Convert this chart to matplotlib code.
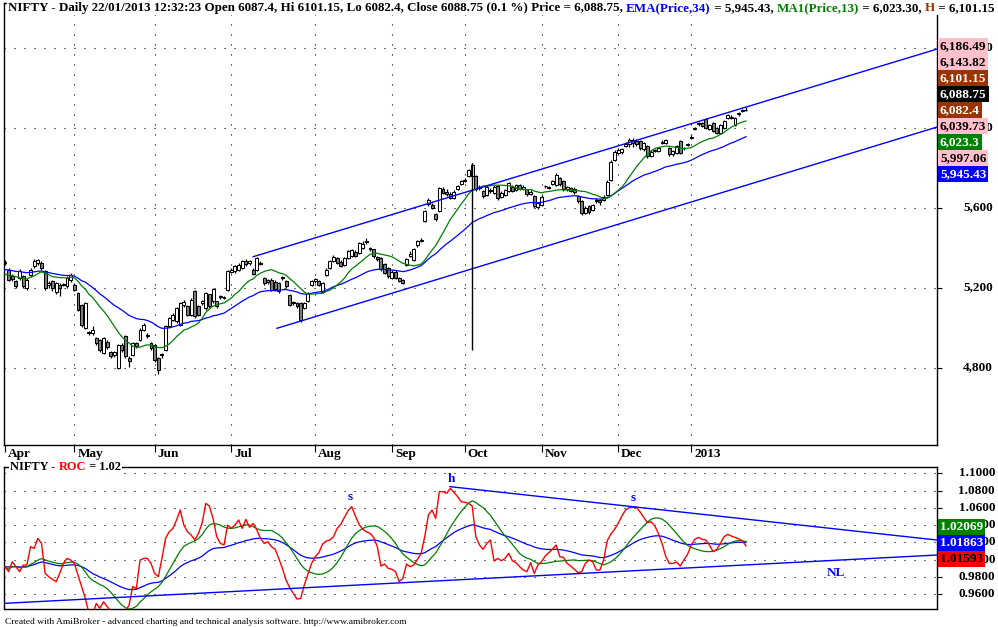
import numpy as np
import pandas as pd
import matplotlib
matplotlib.use("Agg")
from matplotlib import pyplot as plt
from matplotlib import transforms

W, H = 998, 627
FONT = "Liberation Serif"

BLUE = "#0000ff"
GREEN = "#008000"
RED = "#ff0000"
BROWN = "#993300"
PINK = "#ffc0cb"
GRAY = "#808080"

# NIFTY daily bars, Apr 2012 .. 22 Jan 2013
opens = [
    5325, 5290, 5257, 5232, 5248, 5257, 5200, 5265, 5307, 5323,
    5322, 5282, 5215, 5232, 5180, 5215, 5215, 5207, 5240, 5215,
    5173, 5115, 5000, 4975, 4975, 4948, 4940, 4873, 4930, 4877,
    4865, 4798, 4915, 4957, 4848, 4865, 4923, 4940, 4990, 4965,
    4923, 4915, 4848, 4865, 4890, 5007, 5040, 5032, 5015, 5115,
    5107, 5065, 5182, 5107, 5125, 5098, 5165, 5132, 5130, 5155,
    5150, 5190, 5280, 5282, 5290, 5298, 5330, 5322, 5290, 5290,
    5325, 5248, 5237, 5240, 5230, 5223, 5248, 5232, 5165, 5130,
    5123, 5123, 5100, 5132, 5215, 5232, 5232, 5180, 5265, 5300,
    5335, 5348, 5330, 5315, 5348, 5360, 5380, 5373, 5400, 5428,
    5398, 5390, 5350, 5348, 5318, 5298, 5250, 5280, 5248, 5238,
    5315, 5360, 5340, 5412, 5435, 5532, 5618, 5612, 5565, 5582,
    5695, 5680, 5670, 5650, 5692, 5718, 5735, 5760, 5758, 5757,
    5700, 5682, 5665, 5690, 5675, 5707, 5655, 5665, 5682, 5705,
    5690, 5712, 5695, 5690, 5668, 5657, 5602, 5615, 5706, 5702,
    5717, 5715, 5745, 5732, 5692, 5697, 5690, 5657, 5632, 5575,
    5605, 5590, 5634, 5638, 5640, 5665, 5740, 5840, 5875, 5880,
    5908, 5918, 5938, 5930, 5932, 5892, 5907, 5860, 5884, 5882,
    5924, 5925, 5898, 5866, 5873, 5932, 5897, 5913, 5950, 5991,
    6016, 6022, 6043, 5992, 6022, 5998, 5975, 5998, 6050, 6055,
    6015, 6066, 6083, 6087.4,
]
highs = [
    5340, 5300, 5270, 5240, 5295, 5265, 5250, 5300, 5345, 5345,
    5335, 5290, 5235, 5240, 5230, 5225, 5222, 5260, 5275, 5225,
    5180, 5120, 5130, 4985, 5010, 4955, 4945, 4955, 4940, 4885,
    4885, 4920, 4925, 4965, 4860, 4930, 4930, 5000, 5025, 4975,
    4930, 4920, 4855, 4875, 5012, 5055, 5075, 5105, 5130, 5140,
    5115, 5148, 5190, 5112, 5140, 5180, 5170, 5200, 5135, 5165,
    5158, 5290, 5300, 5315, 5325, 5340, 5345, 5338, 5298, 5355,
    5332, 5255, 5245, 5248, 5238, 5230, 5258, 5240, 5170, 5135,
    5128, 5128, 5130, 5180, 5240, 5250, 5238, 5230, 5298, 5340,
    5365, 5355, 5338, 5352, 5388, 5395, 5390, 5428, 5432, 5448,
    5402, 5395, 5360, 5352, 5325, 5305, 5287, 5286, 5252, 5243,
    5348, 5382, 5398, 5438, 5448, 5588, 5648, 5625, 5572, 5705,
    5705, 5695, 5680, 5688, 5712, 5740, 5748, 5795, 5823, 5765,
    5715, 5690, 5712, 5698, 5712, 5712, 5685, 5695, 5728, 5712,
    5720, 5720, 5712, 5695, 5688, 5665, 5628, 5662, 5712, 5710,
    5738, 5775, 5755, 5738, 5708, 5705, 5702, 5665, 5638, 5610,
    5612, 5620, 5648, 5645, 5662, 5736, 5838, 5890, 5898, 5900,
    5928, 5950, 5950, 5945, 5940, 5930, 5912, 5888, 5895, 5905,
    5940, 5945, 5905, 5888, 5912, 5938, 5905, 5922, 5962, 6004,
    6028, 6028, 6050, 6020, 6030, 6005, 6020, 6038, 6070, 6062,
    6052, 6080, 6095, 6101.15,
]
lows = [
    5315, 5235, 5235, 5200, 5240, 5200, 5190, 5255, 5300, 5315,
    5290, 5190, 5200, 5185, 5170, 5160, 5208, 5200, 5230, 5185,
    5085, 5005, 4995, 4965, 4965, 4915, 4880, 4868, 4895, 4850,
    4855, 4792, 4880, 4850, 4805, 4860, 4900, 4935, 4985, 4950,
    4890, 4830, 4770, 4850, 4885, 5000, 5035, 5025, 5010, 5105,
    5060, 5060, 5050, 5060, 5115, 5090, 5100, 5125, 5100, 5145,
    5143, 5185, 5275, 5275, 5285, 5295, 5310, 5315, 5265, 5285,
    5315, 5215, 5220, 5185, 5185, 5175, 5240, 5200, 5110, 5115,
    5100, 5030, 5095, 5128, 5210, 5225, 5210, 5175, 5260, 5295,
    5328, 5318, 5302, 5310, 5343, 5355, 5352, 5368, 5395, 5420,
    5385, 5350, 5335, 5285, 5268, 5250, 5243, 5244, 5228, 5218,
    5310, 5355, 5335, 5405, 5430, 5528, 5610, 5595, 5535, 5578,
    5668, 5660, 5645, 5645, 5686, 5712, 5730, 5755, 5752, 5685,
    5690, 5650, 5660, 5675, 5668, 5640, 5648, 5660, 5678, 5678,
    5685, 5686, 5688, 5660, 5662, 5600, 5595, 5610, 5700, 5695,
    5712, 5710, 5710, 5685, 5685, 5678, 5668, 5625, 5565, 5568,
    5566, 5585, 5625, 5615, 5635, 5660, 5735, 5835, 5868, 5870,
    5902, 5905, 5905, 5910, 5890, 5885, 5850, 5852, 5878, 5876,
    5918, 5920, 5860, 5860, 5868, 5868, 5890, 5908, 5944, 5986,
    6010, 6002, 5992, 5986, 5978, 5968, 5968, 5994, 6044, 6045,
    6008, 6058, 6078, 6082.4,
]
closes = [
    5328, 5240, 5245, 5210, 5282, 5207, 5240, 5290, 5330, 5335,
    5300, 5198, 5225, 5198, 5222, 5200, 5215, 5248, 5265, 5190,
    5090, 5015, 5125, 4972, 4990, 4925, 4890, 4948, 4905, 4857,
    4880, 4915, 4890, 4857, 4832, 4923, 4908, 4990, 5015, 4958,
    4900, 4840, 4790, 4868, 5007, 5048, 5065, 5098, 5123, 5130,
    5065, 5140, 5057, 5065, 5132, 5173, 5107, 5190, 5107, 5157,
    5150, 5282, 5290, 5307, 5315, 5332, 5318, 5330, 5270, 5348,
    5320, 5223, 5228, 5190, 5195, 5182, 5250, 5210, 5115, 5125,
    5107, 5040, 5123, 5173, 5232, 5240, 5215, 5222, 5290, 5332,
    5352, 5325, 5310, 5347, 5380, 5388, 5360, 5420, 5420, 5431,
    5392, 5358, 5342, 5292, 5275, 5258, 5280, 5250, 5234, 5225,
    5343, 5370, 5393, 5430, 5437, 5580, 5635, 5600, 5542, 5695,
    5675, 5670, 5650, 5680, 5705, 5730, 5737, 5788, 5812, 5692,
    5705, 5660, 5705, 5684, 5705, 5650, 5675, 5688, 5720, 5685,
    5712, 5692, 5705, 5668, 5678, 5608, 5620, 5655, 5708, 5700,
    5730, 5762, 5718, 5692, 5700, 5684, 5678, 5633, 5574, 5600,
    5576, 5612, 5638, 5626, 5655, 5730, 5830, 5880, 5888, 5892,
    5918, 5938, 5925, 5918, 5898, 5920, 5858, 5878, 5888, 5898,
    5930, 5938, 5866, 5880, 5905, 5874, 5899, 5916, 5955, 5996,
    6021, 6008, 5998, 6012, 5984, 5974, 6013, 6030, 6062, 6050,
    6046, 6070, 6088, 6088.75,
]
# last closes of March 2012 (estimated), only to warm up the averages
warmup_close = [5317, 5257, 5274, 5364, 5228, 5278, 5184, 5243, 5194, 5178, 5296, 5318]

# ROC pane (red line), one value per bar
roc = [
    0.9917, 0.9859, 0.9975, 0.9917, 0.9859, 0.9936, 0.9936, 1.0149, 1.0129, 1.0245,
    1.0187, 0.9839, 0.9800, 0.9770, 0.9743, 0.9839, 0.9955, 1.0013, 0.9994, 0.9955,
    0.9820, 0.9685, 0.9549, 0.9380, 0.9360, 0.9491, 0.9433, 0.9511, 0.9453, 0.9400,
    0.9360, 0.9340, 0.9370, 0.9400, 0.9472, 0.9685, 0.9665, 0.9994, 1.0013, 1.0013,
    0.9955, 0.9839, 0.9800, 1.0013, 1.0245, 1.0323, 1.0361, 1.0458, 1.0574, 1.0400,
    1.0323, 1.0284, 1.0226, 1.0303, 1.0419, 1.0651, 1.0620, 1.0477, 1.0265, 1.0187,
    1.0168, 1.0400, 1.0361, 1.0400, 1.0458, 1.0361, 1.0466, 1.0373, 1.0419, 1.0342,
    1.0245, 1.0187, 1.0207, 1.0149, 1.0121, 1.0013, 0.9897, 0.9762, 0.9673, 0.9607,
    0.9541, 0.9549, 0.9704, 0.9831, 0.9955, 1.0033, 1.0079, 1.0180, 1.0214, 1.0226,
    1.0265, 1.0361, 1.0408, 1.0489, 1.0566, 1.0613, 1.0504, 1.0408, 1.0350, 1.0323,
    1.0303, 1.0257, 1.0149, 0.9924, 0.9947, 0.9897, 0.9886, 0.9859, 0.9743, 0.9781,
    0.9947, 0.9917, 0.9936, 1.0002, 1.0071, 1.0265, 1.0516, 1.0574, 1.0477, 1.0787,
    1.0787, 1.0767, 1.0825, 1.0779, 1.0729, 1.0671, 1.0663, 1.0651, 1.0620, 1.0265,
    1.0168, 1.0118, 1.0187, 1.0226, 0.9982, 1.0013, 0.9986, 1.0013, 1.0071, 0.9986,
    0.9963, 0.9917, 0.9878, 0.9859, 0.9963, 0.9839, 0.9936, 0.9975, 1.0040, 1.0079,
    1.0121, 1.0168, 1.0033, 1.0025, 0.9955, 0.9924, 0.9886, 0.9847, 0.9859, 0.9955,
    0.9994, 0.9975, 0.9878, 0.9878, 0.9994, 1.0218, 1.0296, 1.0350, 1.0419, 1.0504,
    1.0574, 1.0601, 1.0605, 1.0605, 1.0551, 1.0489, 1.0427, 1.0439, 1.0392, 1.0303,
    1.0187, 1.0040, 0.9955, 0.9955, 0.9971, 0.9924, 0.9994, 1.0060, 1.0168, 1.0234,
    1.0257, 1.0234, 1.0226, 1.0168, 1.0091, 1.0118, 1.0187, 1.0265, 1.0292, 1.0272,
    1.0257, 1.0241, 1.0214, 1.01593,
]

month_names = ["Apr", "May", "Jun", "Jul", "Aug", "Sep", "Oct", "Nov", "Dec", "2013"]
month_bars = [0, 19, 41, 62, 85, 106, 126, 147, 168, 188]

price_ticks = [4800, 5200, 5600, 6000, 6400]
roc_ticks = [0.96, 0.98, 1.00, 1.02, 1.04, 1.06, 1.08, 1.10]

# hand drawn trend lines (bar, value)
chan_up_x, chan_up_y = [68, 255.3], [5354, 6392]
chan_lo_x, chan_lo_y = [74.5, 255.3], [4996, 6002]
roc_res_x, roc_res_y = [121.9, 255.3], [1.0845, 1.0226]
roc_nl_x, roc_nl_y = [0, 255.3], [0.9492, 1.0052]
vline_low = 4890

marks = [("s", 94.5, 1.0725), ("h", 122.2, 1.0934), ("s", 172, 1.0713), ("NL", 227.7, 0.9843)]

price_tags = [6186.49, 6143.82, 6101.15, 6088.75, 6082.4, 6039.73, 6023.3, 5997.06, 5945.43]
price_tag_fc = [PINK, PINK, BROWN, "black", BROWN, PINK, GREEN, PINK, BLUE]
price_tag_tc = ["black", "black", "white", "white", "white", "black", "white", "black", "white"]
roc_tags = [1.02069, 1.01863, 1.01593]
roc_tag_fc = [GREEN, BLUE, RED]
roc_tag_tc = ["white", "white", "black"]

# ---------------------------------------------------------------
fig = plt.figure(figsize=(W / 100, H / 100), dpi=100, facecolor="white")
ax = fig.add_axes([4 / W, 1 - 445 / H, 933 / W, 442 / H])
ax2 = fig.add_axes([4 / W, 1 - 609 / H, 933 / W, 142 / H])

x = np.arange(len(closes))
o, h, l, c = (np.array(v, dtype=float) for v in (opens, highs, lows, closes))

XL = (-0.27, 255.34)
for a in (ax, ax2):
    a.set_xlim(*XL)
    for s in a.spines.values():
        s.set_linewidth(1.0)
        s.set_color("black")
    a.yaxis.tick_right()
    a.tick_params(axis="y", direction="out", length=3.5, width=0.8,
                  labelright=False, labelleft=False)
    a.set_xticks([])
ax.set_ylim(4412.5, 6622.5)
ax2.set_ylim(0.9426, 1.1073)
ax.set_yticks(price_ticks)
ax2.set_yticks(roc_ticks)
ax.set_xticks(month_bars)
ax.tick_params(axis="x", direction="out", length=5, width=0.8, labelbottom=False)

dots = dict(color="black", lw=0.8, linestyle=(0, (1, 8)), zorder=0.5)
for p in price_ticks:
    ax.axhline(p, **dots)
for b in month_bars[1:]:
    ax.axvline(b, **dots)
for v in roc_ticks:
    ax2.axhline(v, **dots)

# candles
up = c >= o
ax.vlines(x, l, h, color="black", lw=0.9, zorder=3)
body = np.maximum(np.abs(c - o), 1.5)
ax.bar(x, body, bottom=np.minimum(o, c), width=0.8,
       color=np.where(up, "white", GRAY), edgecolor="black", linewidth=0.75, zorder=4)

series = pd.Series(warmup_close + closes, dtype=float)
n0 = len(warmup_close)
ema34 = series.ewm(span=34, adjust=False).mean().to_numpy()[n0:]
ma13 = series.rolling(13).mean().to_numpy()[n0:]
ax.plot(x, ema34, color=BLUE, lw=0.9, zorder=5)
ax.plot(x, ma13, color=GREEN, lw=0.9, zorder=5)

ax.plot(chan_up_x, chan_up_y, color=BLUE, lw=1.0, zorder=5)
ax.plot(chan_lo_x, chan_lo_y, color=BLUE, lw=1.0, zorder=5)
peak_bar = int(np.argmax(h[:150]))
ax.vlines(peak_bar, vline_low, h[peak_bar], color="black", lw=1.0, zorder=6)

# ROC pane
r = pd.Series(roc)
ax2.plot(x, r.ewm(span=34, adjust=False).mean(), color=BLUE, lw=0.9, zorder=3)
ax2.plot(x, r.rolling(13, min_periods=1).mean(), color=GREEN, lw=0.9, zorder=3)
ax2.plot(x, roc, color=RED, lw=1.0, zorder=4)
ax2.plot(roc_res_x, roc_res_y, color=BLUE, lw=1.0, zorder=5)
ax2.plot(roc_nl_x, roc_nl_y, color=BLUE, lw=1.0, zorder=5)
for txt, bx, by in marks:
    ax2.text(bx, by, txt, color=BLUE, fontsize=9.5, fontweight="bold", family=FONT,
             ha="center", va="center", zorder=6)

# ---------------------------------------------------------------
fig.canvas.draw()
rend = fig.canvas.get_renderer()


def draw_parts(x_px, y_px, parts, size):
    for s, col in parts:
        t = fig.text(x_px / W, 1 - y_px / H, s, color=col, fontsize=size,
                     fontweight="bold", family=FONT, ha="left", va="center",
                     bbox=dict(fc="white", ec="none", pad=0.6), zorder=6)
        x_px = t.get_window_extent(rend).x1


draw_parts(8, 8, [
    ("NIFTY - Daily 22/01/2013 12:32:23 Open 6087.4, Hi 6101.15, Lo 6082.4, "
     "Close 6088.75 (0.1 %) Price = 6,088.75, ", "black"),
    ("EMA(Price,34)", BLUE),
    (" = 5,945.43, ", "black"),
    ("MA1(Price,13)", GREEN),
    (" = 6,023.30, ", "black"),
    ("H", BROWN),
    (" = 6,101.15", "black"),
], size=9.4)
draw_parts(10, 467, [("NIFTY - ", "black"), ("ROC", RED), (" = 1.02", "black")], size=8.9)

# month labels
xfig = transforms.blended_transform_factory(ax.transData, fig.transFigure)
for name, b in zip(month_names, month_bars):
    fig.text(b + 0.8, 1 - 454 / H, name, transform=xfig, fontsize=9.5,
             fontweight="bold", family=FONT, ha="left", va="center")

# axis numbers on the right
ty = transforms.blended_transform_factory(fig.transFigure, ax.transData)
for p in price_ticks:
    fig.text(993 / W, p, f"{p:,}", transform=ty, fontsize=9.5, fontweight="bold",
             family=FONT, ha="right", va="center", zorder=3)
ty2 = transforms.blended_transform_factory(fig.transFigure, ax2.transData)
for v in roc_ticks:
    fig.text(995 / W, v, f"{v:.4f}", transform=ty2, fontsize=9.5, fontweight="bold",
             family=FONT, ha="right", va="center", zorder=3)

# value tags
for k, (v, fc, tc) in enumerate(zip(price_tags, price_tag_fc, price_tag_tc)):
    fig.text(940 / W, 1 - (46 + 16 * k) / H, f"{v:,}", color=tc, fontsize=9.5,
             fontweight="bold", family=FONT, ha="left", va="center", zorder=4,
             bbox=dict(boxstyle="square,pad=0.15", fc=fc, ec="none"))
for k, (v, fc, tc) in enumerate(zip(roc_tags, roc_tag_fc, roc_tag_tc)):
    fig.text(940 / W, 1 - (527 + 16 * k) / H, f"{v:.5f}", color=tc, fontsize=9.5,
             fontweight="bold", family=FONT, ha="left", va="center", zorder=4,
             bbox=dict(boxstyle="square,pad=0.15", fc=fc, ec="none"))

fig.text(5 / W, 1 - 622 / H,
         "Created with AmiBroker - advanced charting and technical analysis software. "
         "http://www.amibroker.com",
         fontsize=6.8, family=FONT, ha="left", va="center")

fig.savefig("out.png", dpi=100, facecolor="white")
